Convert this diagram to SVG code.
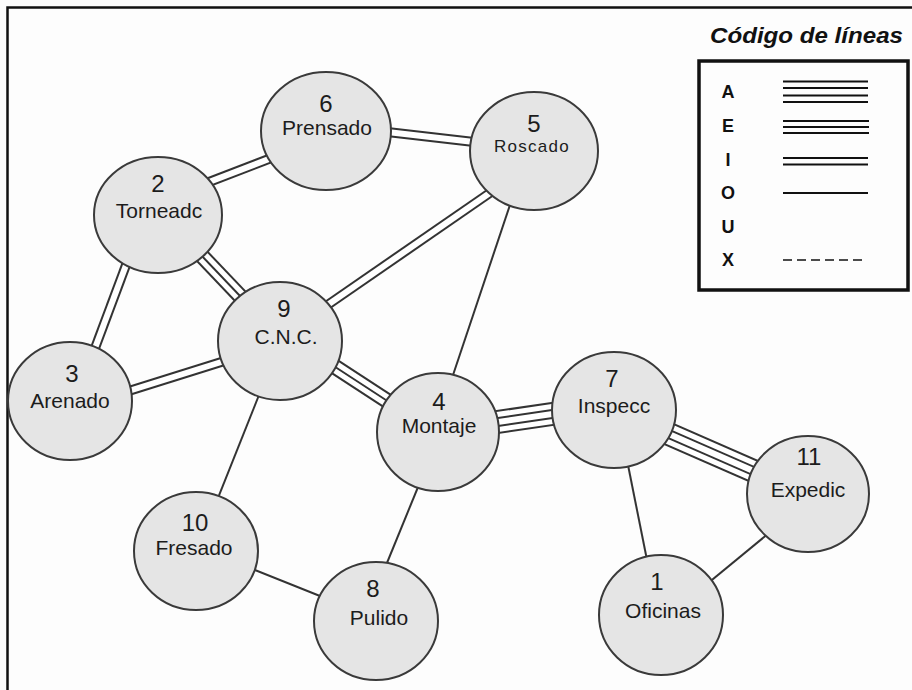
<svg xmlns="http://www.w3.org/2000/svg" xmlns:xlink="http://www.w3.org/1999/xlink" width="912" height="690" viewBox="0 0 912 690">
<style>
  .frame{fill:none;stroke:#111;stroke-width:2.5}
  .node{fill:#e5e5e5;stroke:#3a3a3a;stroke-width:2}
  .d{font-family:"Liberation Sans",Arial,sans-serif;font-size:24px;fill:#1c1c1c;text-anchor:middle}
  .t{font-family:"Liberation Sans",Arial,sans-serif;font-size:21px;fill:#1c1c1c;text-anchor:middle}
  .dk{fill:none;stroke:#333}
  .wt{fill:none;stroke:#fff}
  .w2{stroke-width:2}
  .w6{stroke-width:6}
  .w10{stroke-width:10}
  .w12{stroke-width:12}
  .w16{stroke-width:16}
  .w20{stroke-width:20}
  .w24{stroke-width:24}
  .leg{stroke:#111;stroke-width:2;fill:none}
  .lt{font-family:"Liberation Sans",Arial,sans-serif;font-size:18px;font-weight:bold;fill:#111;text-anchor:middle}
  .title{font-family:"Liberation Sans",Arial,sans-serif;font-size:22px;font-weight:bold;font-style:italic;fill:#111}
</style>
<defs>
  <path id="c2-6" d="M170,197 L300,147"/>
  <path id="c6-5" d="M370,130 L500,145"/>
  <path id="c5-9" d="M510,179 L300,324"/>
  <path id="c5-4" d="M515,190 L448,390"/>
  <path id="c2-3" d="M135,241 L85,375"/>
  <path id="c2-9" d="M160,212 L280,338"/>
  <path id="c3-9" d="M100,400 L250,353"/>
  <path id="c9-4" d="M300,344 L415,419"/>
  <path id="c4-7" d="M450,429 L600,407"/>
  <path id="c7-11" d="M630,417 L790,487"/>
  <path id="c7-1" d="M625,450 L650,575"/>
  <path id="c11-1" d="M780,524 L690,598"/>
  <path id="c9-10" d="M265,380 L210,518"/>
  <path id="c10-8" d="M230,560 L350,608"/>
  <path id="c4-8" d="M425,470 L380,580"/>
</defs>
<rect x="0" y="0" width="912" height="690" fill="#fdfdfd"/>
<path class="frame" d="M7.5,690 V7.5 H912"/>

<g id="connectors">
  <!-- I: two lines -->
  <g id="e2-6"><use xlink:href="#c2-6" class="dk w10"/><use xlink:href="#c2-6" class="wt w6"/></g>
  <g id="e6-5"><use xlink:href="#c6-5" class="dk w10"/><use xlink:href="#c6-5" class="wt w6"/></g>
  <g id="e5-9"><use xlink:href="#c5-9" class="dk w10"/><use xlink:href="#c5-9" class="wt w6"/></g>
  <g id="e2-3"><use xlink:href="#c2-3" class="dk w10"/><use xlink:href="#c2-3" class="wt w6"/></g>
  <g id="e3-9"><use xlink:href="#c3-9" class="dk w10"/><use xlink:href="#c3-9" class="wt w6"/></g>
  <!-- E: three lines -->
  <g id="e2-9"><use xlink:href="#c2-9" class="dk w16"/><use xlink:href="#c2-9" class="wt w12"/><use xlink:href="#c2-9" class="dk w2"/></g>
  <g id="e9-4"><use xlink:href="#c9-4" class="dk w16"/><use xlink:href="#c9-4" class="wt w12"/><use xlink:href="#c9-4" class="dk w2"/></g>
  <!-- A: four lines -->
  <g id="e4-7"><use xlink:href="#c4-7" class="dk w24"/><use xlink:href="#c4-7" class="wt w20"/><use xlink:href="#c4-7" class="dk w10"/><use xlink:href="#c4-7" class="wt w6"/></g>
  <g id="e7-11"><use xlink:href="#c7-11" class="dk w24"/><use xlink:href="#c7-11" class="wt w20"/><use xlink:href="#c7-11" class="dk w10"/><use xlink:href="#c7-11" class="wt w6"/></g>
  <!-- O: one line -->
  <use xlink:href="#c5-4" class="dk w2"/>
  <use xlink:href="#c7-1" class="dk w2"/>
  <use xlink:href="#c11-1" class="dk w2"/>
  <use xlink:href="#c9-10" class="dk w2"/>
  <use xlink:href="#c10-8" class="dk w2"/>
  <use xlink:href="#c4-8" class="dk w2"/>
</g>

<g id="n6"><ellipse class="node" cx="326" cy="131" rx="65" ry="59"/><text class="d" x="326" y="112">6</text><text class="t" x="327" y="135">Prensado</text></g>
<g id="n2"><ellipse class="node" cx="158" cy="215" rx="64" ry="58"/><text class="d" x="158" y="192">2</text><text class="t" x="159" y="218">Torneadc</text></g>
<g id="n5"><ellipse class="node" cx="534" cy="151" rx="64" ry="59"/><text class="d" x="534" y="132">5</text><text class="t" x="532" y="152" style="font-size:17px;letter-spacing:1.3px">Roscado</text></g>
<g id="n9"><ellipse class="node" cx="280" cy="341" rx="62" ry="59"/><text class="d" x="284" y="317">9</text><text class="t" x="286" y="344">C.N.C.</text></g>
<g id="n3"><ellipse class="node" cx="70" cy="401" rx="62" ry="59"/><text class="d" x="72" y="382">3</text><text class="t" x="70" y="408">Arenado</text></g>
<g id="n4"><ellipse class="node" cx="438" cy="432" rx="61" ry="59"/><text class="d" x="439" y="410">4</text><text class="t" x="439" y="433">Montaje</text></g>
<g id="n7"><ellipse class="node" cx="614" cy="410" rx="62" ry="58"/><text class="d" x="612" y="387">7</text><text class="t" x="614" y="413">Inspecc</text></g>
<g id="n11"><ellipse class="node" cx="808" cy="494" rx="61" ry="58"/><text class="d" x="809" y="465">11</text><text class="t" x="808" y="497">Expedic</text></g>
<g id="n1"><ellipse class="node" cx="661" cy="615" rx="62" ry="60"/><text class="d" x="657" y="590">1</text><text class="t" x="663" y="618">Oficinas</text></g>
<g id="n10"><ellipse class="node" cx="196" cy="551" rx="62" ry="59"/><text class="d" x="195" y="531">10</text><text class="t" x="194" y="555">Fresado</text></g>
<g id="n8"><ellipse class="node" cx="376" cy="621" rx="62" ry="59"/><text class="d" x="373" y="597">8</text><text class="t" x="379" y="625">Pulido</text></g>

<g id="legend">
  <text class="title" x="710" y="43" textLength="193" lengthAdjust="spacingAndGlyphs">Código de líneas</text>
  <rect x="699" y="61" width="209" height="229" fill="none" stroke="#111" stroke-width="3.5"/>
  <text class="lt" x="728" y="98">A</text>
  <text class="lt" x="728" y="132">E</text>
  <text class="lt" x="728" y="166">I</text>
  <text class="lt" x="728" y="199">O</text>
  <text class="lt" x="728" y="233">U</text>
  <text class="lt" x="728" y="266">X</text>
  <path class="leg" d="M783,81.5 H868 M783,88 H868 M783,95.5 H868 M783,102 H868"/>
  <path class="leg" d="M783,121 H869 M783,127 H869 M783,133 H869"/>
  <path class="leg" d="M783,158 H868 M783,164.5 H868"/>
  <path class="leg" d="M783,193 H868"/>
  <path class="leg" d="M783,260 H866" stroke-dasharray="9 5" style="stroke-width:1.5"/>
</g>
</svg>
